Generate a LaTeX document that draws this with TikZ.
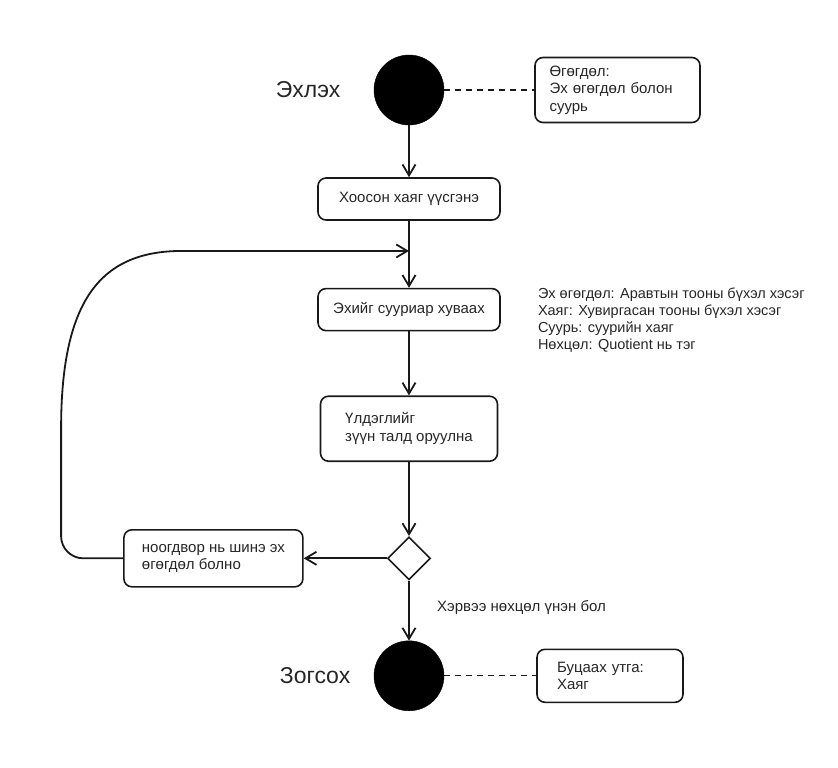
\documentclass[tikz,border=0pt]{standalone}
\usepackage{fontspec}
\setmainfont{Liberation Sans}
\usetikzlibrary{arrows.meta, positioning, shapes.geometric, calc}

\begin{document}
\begin{tikzpicture}[
  x=1pt, y=-1pt,
  font=\fontsize{15}{17.5}\selectfont,
  endpoint/.style={circle, fill=black, draw=black, minimum size=70pt, inner sep=0pt},
  title/.style={font=\fontsize{23}{26}\selectfont, text=black!85},
  action/.style={rectangle, rounded corners=8pt, draw=black!90, line width=1.6pt, minimum width=182pt, minimum height=42pt, align=left, text=black!85},
  note/.style={rectangle, rounded corners=8pt, draw=black!90, line width=1.6pt, align=left, text=black!85},
  choice/.style={diamond, draw=black!90, line width=1.6pt, minimum size=43pt, inner sep=0pt},
  arrow/.style={-{Straight Barb[length=11pt, width=13pt]}, line width=1.8pt, black!90},
  link/.style={line width=1.3pt, dash pattern=on 6pt off 5pt, black!90}
]
  \useasboundingbox (0,0) rectangle (838,768);

  % Main flow
  \node[endpoint] (start) at (409,90) {};
  \node[title, left=30pt of start] (begin) {Эхлэх};
  \node[action, below=52pt of start] (empty) {Хоосон хаяг үүсгэнэ};
  \node[action, below=67pt of empty] (divide) {Эхийг сууриар хуваах};
  \node[action, below=64pt of divide, minimum width=177pt, minimum height=65pt] (insert) {Үлдэглийг\\зүүн талд оруулна};
  \node[choice, below=74pt of insert] (check) {};
  \node[endpoint, below=60pt of check] (stop) {};
  \node[title, left=20pt of stop] (end) {Зогсох};

  % Side nodes
  \node[action, left=83pt of check, minimum width=179pt, minimum height=57pt] (rest) {ноогдвор нь шинэ эх\\өгөгдөл болно};
  \node[note, right=90pt of start, text width=136pt, inner xsep=14.5pt, minimum height=65pt] (input) {Өгөгдөл:\\Эх өгөгдөл болон\\суурь};
  \node[note, right=92pt of stop, text width=106pt, inner xsep=20pt, minimum height=53pt] (output) {Буцаах утга:\\Хаяг};
  \node[below right=0pt and 37pt of divide.north east, align=left, inner sep=0pt, text=black!85,
        font=\fontsize{14.5}{17}\selectfont] (spec)
    {Эх өгөгдөл: Аравтын тооны бүхэл хэсэг\\Хаяг: Хувиргасан тооны бүхэл хэсэг\\Суурь: суурийн хаяг\\Нөхцөл: Quotient нь тэг};

  % Arrows
  \draw[link] (start) -- (input);
  \draw[link] (stop) -- (output);
  \draw[arrow] (start) -- (empty);
  \draw[arrow] (empty) -- (divide);
  \draw[arrow] (divide) -- (insert);
  \draw[arrow] (insert) -- (check);
  \draw[arrow] (check) -- node[right=24pt, pos=0.45, text=black!85] (cond) {Хэрвээ нөхцөл үнэн бол} (stop);
  \draw[arrow] (check) -- (rest);
  \coordinate (join) at ($(empty.south)!0.45!(divide.north)$);
  \draw[arrow] (rest.west) -- ++(-40,0) .. controls +(-12,0) and +(0,12) .. ++(-22,-22) -- ++(0,-108)
    .. controls +(0,-130) and ($(join)+(-307,0)$) .. ($(join)+(-227,0)$) -- (join);
\end{tikzpicture}
\end{document}
